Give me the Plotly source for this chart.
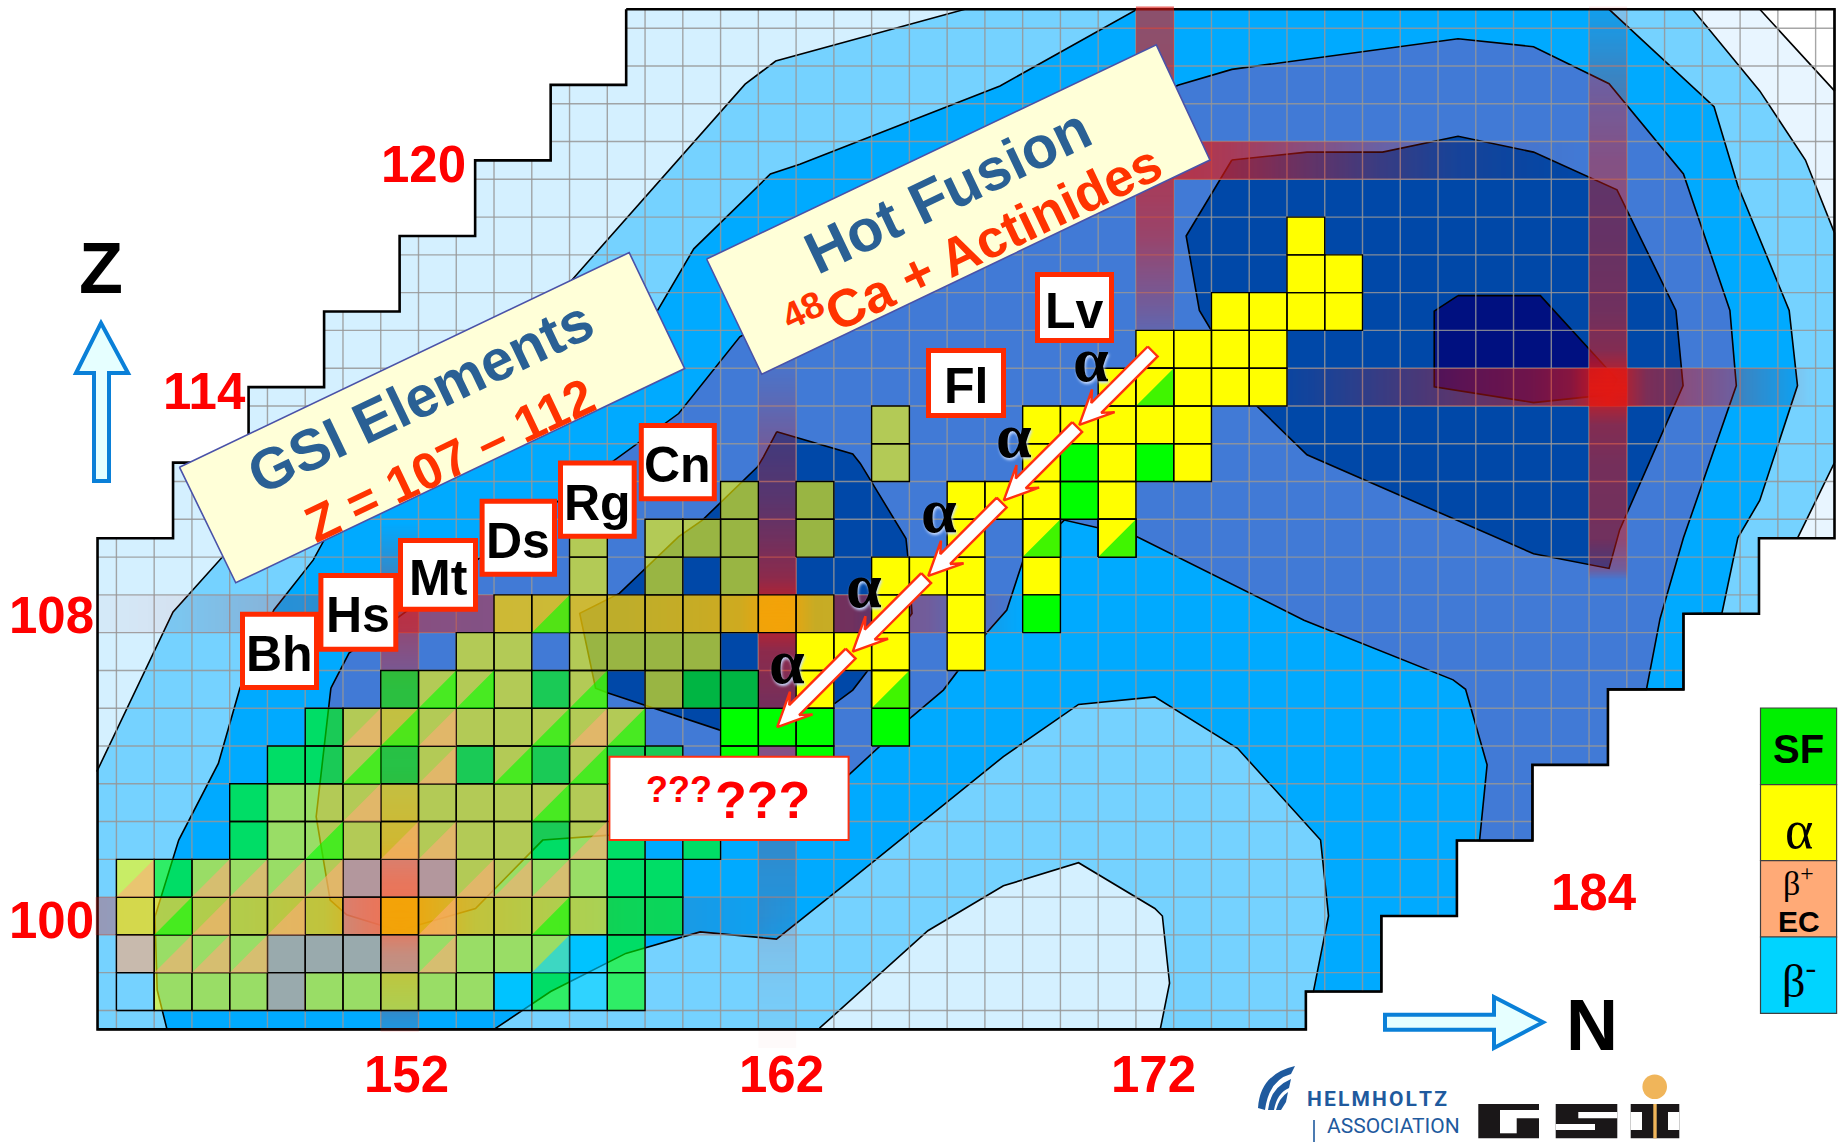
import plotly.graph_objects as go

W, H = 1845, 1142
N_RANGE = [141.417, 190.278]
Z_RANGE = [94.018, 124.246]

# ---------- chart region and contour levels (N, Z) ----------
STAIR_N = [158,158,156,156,154,154,152,152,150,150,148,148,146,146,144,144,176,176,178,178,180,180,182,182,184,184,186,186,188,188,190,190,158]
STAIR_Z = [124,122,122,120,120,118,118,116,116,114,114,112,112,110,110,97,97,98,98,100,100,102,102,104,104,106,106,108,108,110,110,124,124]

EDGE_N = [186.24,190,190,189.02,190,190,189.23,188.02]
EDGE_Z = [124,124,110,110,112,118.08,120.01,121.84]
CORNER_N = [188.02,190,190]
CORNER_Z = [124,121.84,124]

L1_N = [143.98,146,147.36,156.54,161.15,161.96,166.97,186.24,188.02,189.23,190,190,189.02,188,188,186,186,184,184,182,182,180,180,178,178,176,176,144]
L1_Z = [103.82,108.05,109.56,116.81,122.02,122.63,124,124,121.84,120.01,118.08,112,110,110,108,108,106,106,104,104,102,102,100,100,98,98,97,97]

M_N = [145.84,145.58,145.52,146.15,147.2,147.77,148.67,149.71,150.06,158.84,159.79,161.82,162.6,167.9,171.53,184.03,186.81,187.44,188.8,189.02,188.02,187.44,187.02,186,186,184,184,182,182,180,180,178,178,176,176]
M_Z = [97,98.04,99.98,102.01,104.04,106.03,108.1,109.42,110.06,116.04,117.66,119.64,119.9,121.97,124,124,121.42,119.33,116.03,114.04,111,110.01,108.02,108,106,106,104,104,102,102,100,100,98,98,97]

L2_N = [154.5,156,157.99,159.96,161.98,163.94,167.99,169.98,172,174.19,176.39,176.6,176.2,176,176]
L2_Z = [97,98,99.01,99.58,99.39,100.95,104.22,105.6,105.8,104.44,102.01,100,98,98,97]

L3_N = [163.12,165.99,167.99,169.98,172,172.2,172.39,172.15]
L3_Z = [97.03,99.61,100.8,101.41,100.2,100,98.22,97.03]

B_N = [150.18,150.66,159.39,161.01,172.61,174.04,180.03,182.03,184.03,186,187.23,187.4,186,185.38,185.02,184,184,182,182,180.6,180.8,180.23,179.9,175.95,171.53,169.6,168.5,168.08,167.56,166.4,165.57,163.89,162,157.57,155.79,154.01,151.97,150.6,150.16,149.79,150.18]
B_Z = [106.03,106.96,113.3,115.33,121.99,122.41,123.22,123.01,122.03,119.64,116.03,114.04,110.01,107.87,106,106,104,104,102,102,104,106,106.25,107.83,110.04,110.48,109.38,108.1,107.51,105.98,105.28,103.73,102.8,102.14,102.01,100.2,99.61,100.03,100.42,102.63,106.03]

D1_N = [174.04,176.03,178.03,180.03,182.03,184.24,185.8,185.99,184.31,184.03,182.03,176.03,174.68,173.18,172.83,174.04]
D1_Z = [120.01,120.22,120.22,120.64,120.22,119.22,116.03,114.04,110.22,109.2,109.59,112.21,113.52,116.03,118,120.01]

D2_N = [161.99,164,164.2,165.41,165.46,165.57,164.41,164,163.53,160.48,157.5,157.19,156.77,157.82,159.39,160.02,161.48,161.64,161.99]
D2_Z = [112.82,112.23,111.98,109.99,109.51,108.01,106.51,105.98,105.63,104.92,105.91,106.03,108.01,108.54,110.04,110.48,111.89,112.16,112.82]

D3_N = [180.03,182.21,184.24,184.02,182.03,179.4,179.4,180.03]
D3_Z = [116.42,116.42,114.2,113.8,113.59,114.01,116.01,116.42]

# ---------- shell-closure bands (position along band, strength) ----------
BAND_Z108_N = [144,144.1,146,148,150,151,152,154,156,158,160,161,161.6,162,162.4,163,164,165,166,167,168.5]
BAND_Z108_A = [.03,.03,.06,.14,.2,.3,.45,.42,.4,.42,.52,.6,.85,1,.85,.52,.5,.35,.3,.15,0]
BAND_Z100_N = [144,144.1,146,148,150,151,152,153,154,156,158,160,161.5,162.4]
BAND_Z100_A = [.3,.3,.25,.3,.45,.75,1,.7,.45,.28,.15,.1,.06,0]
BAND_Z114_N = [174.5,176,178,180,182,183,184,185,186,188,189.5]
BAND_Z114_A = [0,.08,.25,.4,.5,.6,.95,.55,.45,.2,0]
BAND_Z120_N = [171.5,173,174,176,178,180,181.5,183.5]
BAND_Z120_A = [.7,.7,.65,.45,.25,.1,.05,0]
BAND_N162_Z = [97,98,99,100,102,104,106,107,107.6,108,108.4,109,110,111,112.5,114,115.2]
BAND_N162_A = [.02,.04,.08,.14,.22,.38,.55,.62,.8,1,.8,.62,.5,.4,.3,.12,0]
BAND_N172_Z = [114.5,116,118,120,122,124,124.05]
BAND_N172_A = [0,.28,.55,.68,.65,.62,.62]
BAND_N184_Z = [108.9,109.2,110,112,113,114,115,116,118,120,122,124,124.05]
BAND_N184_A = [0,.3,.5,.52,.58,.95,.58,.5,.45,.42,.28,.08,.08]
BAND_N152_Z = [97,97.1,99,100,101,102,104,106,107,108,109,110.4]
BAND_N152_A = [.15,.15,.5,1,.8,.45,.2,.28,.42,.55,.25,0]

# ---------- nuclide cells: {Z: [N, ...]} ----------
FADED_YELLOW = {
    98:[146,147,148,150,151,152,153,154], 99:[146,147,148,153,154,155,156],
    100:[145,146,147,148,149,150,152,153,154,155,156,157], 101:[145,147,148,149,150,154,155,156,157],
    102:[149,150,151,152,153,154,155,157], 103:[149,150,151,152,153,154,155,156,157],
    104:[151,153,155,157], 105:[151,152,153,154,155,156,157,158], 106:[153,154,155,157,159],
    107:[154,155,157,158,159,160], 108:[155,156,157,158,159,160,161,162,163], 109:[157,159,161],
    110:[157,159,160,161,163], 111:[161,163], 112:[165], 113:[165]}
FADED_GREEN = {98:[156,158], 99:[158], 100:[158,159], 101:[146,158,159], 102:[148,156,158,160], 103:[148],
               104:[149,150,152,154,156,158,159], 105:[150], 106:[152,156,160,161]}
FADED_ORANGE = {98:[149], 99:[145,149,150,151,152], 100:[151], 101:[151,152,153]}
FADED_CYAN = {98:[155,157], 99:[157]}
EMPTY_CELLS = {98:[145]}
TRI_ORANGE = {99:[146,147,148,153], 100:[147,149,153], 101:[145,147,148,149,150,154,155,156], 102:[152,153,157],
              103:[151], 104:[153], 105:[151,153,157]}
TRI_GREEN = {100:[146,156], 102:[150], 103:[156], 104:[151,155,157], 105:[152,156,158], 106:[153,154,157], 108:[156]}
TRI_CYAN = {99:[156]}
SOLID_YELLOW = {106:[163,165], 107:[163,164,165,167], 108:[165,167], 109:[165,166,167,169], 110:[167,169,171],
                111:[167,168,169,171], 112:[169,171,173], 113:[169,170,171,172,173], 114:[171,172,173,174,175],
                115:[172,173,174,175], 116:[174,175,176,177], 117:[176,177], 118:[176]}
SOLID_GREEN = {104:[161,163], 105:[161,162,163,165], 108:[169], 111:[170], 112:[170,172]}
SOLID_TRI_GREEN = {106:[165], 110:[169,171], 114:[172]}

# ---------- decay chain ----------
CHAIN_N = [172,170,168,166,164,162]
CHAIN_Z = [115,113,111,109,107,105]

# ---------- tilted panels ----------
GSI_BOX_N = [146.17,158.08,159.55,147.66,146.17]
GSI_BOX_Z = [111.88,117.56,114.49,108.82,111.88]
HOT_BOX_N = [160.13,172.04,173.46,161.59,160.13]
HOT_BOX_Z = [117.39,123.06,120.01,114.34,117.39]

# ---------- texts ----------
ELEMENTS = ["Bh","Hs","Mt","Ds","Rg","Cn","Fl","Lv"]
ELEMENT_X0 = [240,318.4,398,479.6,558,638.8,926,1035]
ELEMENT_X1 = [319,398.3,478,557,636.7,716.8,1006,1114]
ELEMENT_Y0 = [611.7,573,538,498.7,460.4,422.9,348,272]
ELEMENT_Y1 = [690,651.7,611.7,576.7,538.8,501.3,418,343]
MAGIC = ["120","114","108","100","152","162","172","184"]
MAGIC_X = [423.6,204.7,51.8,51.8,406,781.3,1153,1594.4]
MAGIC_Y = [164.7,391.8,615.4,920,1074,1074,1074,892]
ALPHA_X = [1091,1014,939,864,787]
ALPHA_Y = [359,435,510,585,661]
LEGEND_COLORS = ["#00f000","#ffff00","#ffaa77","#00d4ff"]
LEGEND_Y = [708,784.7,860.7,937,1013.3]

SANS = "Liberation Sans"
SERIF = "Liberation Serif"
LINE = "#000000"

fx = lambda x: x / W
fy = lambda y: 1 - y / H

fig = go.Figure()

def poly(ns, zs, fill, line=LINE, lw=1.6, axes=1):
    fig.add_trace(go.Scatter(
        x=ns, y=zs, mode="lines", fill="toself", fillcolor=fill,
        line=dict(color=line if line else "rgba(0,0,0,0)", width=lw if line else 0),
        hoverinfo="skip", showlegend=False,
        xaxis="x" if axes == 1 else "x2", yaxis="y" if axes == 1 else "y2"))

poly(STAIR_N, STAIR_Z, "#d4f0ff", None)
poly(EDGE_N, EDGE_Z, "#e8f5ff", None)
poly(CORNER_N, CORNER_Z, "#ffffff")
poly(L1_N, L1_Z, "#75d2ff")
poly(M_N, M_Z, "#00aaff")
poly(L2_N, L2_Z, "#75d2ff")
poly(L3_N, L3_Z, "#d4f0ff")
poly(B_N, B_Z, "#417ad6")
poly(D1_N, D1_Z, "#0048a8")
poly(D2_N, D2_Z, "#0048a8")
poly(D3_N, D3_Z, "#001080")

# grid inside the staircase
def top_at(n):
    return (110 if n < 146 else 112 if n < 148 else 114 if n < 150 else 116 if n < 152 else
            118 if n < 154 else 120 if n < 156 else 122 if n < 158 else 124)
def bottom_at(n):
    return 97 if n < 176 else 98 if n < 178 else 100 if n < 180 else 102 if n < 182 else \
        104 if n < 184 else 106 if n < 186 else 108 if n < 188 else 110
gx, gy = [], []
for i in range(144, 190):
    n = i + .5
    gx += [n, n, None]; gy += [bottom_at(n), top_at(n), None]
for i in range(97, 124):
    z = i + .5
    left = next(k + .0 for k in range(144, 190) if bottom_at(k + .5) < z < top_at(k + .5))
    right = next(k + 1.0 for k in range(189, 143, -1) if bottom_at(k + .5) < z < top_at(k + .5))
    gx += [left, right, None]; gy += [z, z, None]
fig.add_trace(go.Scatter(x=gx, y=gy, mode="lines", line=dict(color="rgba(150,150,150,.85)", width=1.4),
                         hoverinfo="skip", showlegend=False))
fig.add_trace(go.Scatter(x=STAIR_N, y=STAIR_Z, mode="lines", line=dict(color=LINE, width=2.6),
                         hoverinfo="skip", showlegend=False))

# bands
RED = [[0, "rgba(225,25,20,0)"], [1, "rgba(225,25,20,1)"]]
def hband(z, ns, a):
    fig.add_trace(go.Heatmap(x=ns, y=[z - .5, z, z + .5], z=[a, a], zmin=0, zmax=1, colorscale=RED,
                             zsmooth="best", showscale=False, hoverinfo="skip", xaxis="x2", yaxis="y2"))
def vband(n, zs, a):
    fig.add_trace(go.Heatmap(x=[n - .5, n, n + .5], y=zs, z=[[v, v] for v in a], zmin=0, zmax=1, colorscale=RED,
                             zsmooth="best", showscale=False, hoverinfo="skip", xaxis="x2", yaxis="y2"))
hband(108, BAND_Z108_N, BAND_Z108_A)
hband(100, BAND_Z100_N, BAND_Z100_A)
hband(114, BAND_Z114_N, BAND_Z114_A)
hband(120, BAND_Z120_N, BAND_Z120_A)
vband(162, BAND_N162_Z, BAND_N162_A)
vband(172, BAND_N172_Z, BAND_N172_A)
vband(184, BAND_N184_Z, BAND_N184_A)
vband(152, BAND_N152_Z, BAND_N152_A)

# cells
def squares(rows):
    xs, ys = [], []
    for z, ns in rows.items():
        for n in ns:
            xs += [n-.5, n+.5, n+.5, n-.5, n-.5, None]
            ys += [z-.5, z-.5, z+.5, z+.5, z-.5, None]
    return xs, ys
def triangles(rows):
    xs, ys = [], []
    for z, ns in rows.items():
        for n in ns:
            xs += [n-.5, n+.5, n+.5, n-.5, None]
            ys += [z-.5, z-.5, z+.5, z-.5, None]
    return xs, ys
def cells(rows, fill):
    xs, ys = squares(rows)
    poly(xs, ys, fill, LINE, 1.4, 2)
def tris(rows, fill):
    xs, ys = triangles(rows)
    poly(xs, ys, fill, None, 0, 2)

cells(EMPTY_CELLS, "rgba(0,0,0,0)")
cells(FADED_YELLOW, "rgba(255,255,0,.6)")
cells(FADED_GREEN, "rgba(0,255,0,.6)")
cells(FADED_ORANGE, "rgba(255,170,119,.6)")
cells(FADED_CYAN, "rgba(0,212,255,.6)")
tris(TRI_ORANGE, "rgba(255,170,119,.6)")
tris(TRI_GREEN, "rgba(0,255,0,.6)")
tris(TRI_CYAN, "rgba(0,212,255,.6)")
cells(SOLID_YELLOW, "#ffff00")
cells(SOLID_GREEN, "#00ff00")
cells(SOLID_TRI_GREEN, "#ffff00")
tris(SOLID_TRI_GREEN, "#40f500")
cells(SOLID_TRI_GREEN, "rgba(0,0,0,0)")

# decay arrows
U = 37.77
for i in range(len(CHAIN_N) - 1):
    ax, ay, bx, by = CHAIN_N[i], CHAIN_Z[i], CHAIN_N[i+1], CHAIN_Z[i+1]
    dx, dy = bx - ax, by - ay
    L = (dx*dx + dy*dy) ** .5
    ux, uy = dx / L, dy / L
    px_, py_ = -uy, ux
    def P(along, lat):
        return ax + ux*along/U + px_*lat/U, ay + uy*along/U + py_*lat/U
    tot = L * U
    pts = [P(3, -7), P(tot-24, -7), P(tot-34, -16), P(tot, 0), P(tot-34, 16), P(tot-24, 7), P(3, 7), P(3, -7)]
    poly([p[0] for p in pts], [p[1] for p in pts], "#ffffff", "#ff3010", 2.4, 2)

poly(GSI_BOX_N, GSI_BOX_Z, "#ffffd8", "#4a52a8", 1.6, 2)
poly(HOT_BOX_N, HOT_BOX_Z, "#ffffd8", "#4a52a8", 1.6, 2)

# ---------- page furniture ----------
shapes = []
def rect(x0, y0, x1, y1, fill, line=None, lw=0):
    shapes.append(dict(type="rect", xref="paper", yref="paper", x0=fx(x0), x1=fx(x1), y0=fy(y0), y1=fy(y1),
                       fillcolor=fill, line=dict(color=line or "rgba(0,0,0,0)", width=lw), layer="above"))
def path(points, fill, line=None, lw=0):
    d = ""
    for p in points:
        coords = " ".join(f"{fx(p[j])},{fy(p[j+1])}" for j in range(1, len(p), 2))
        d += f"{p[0]} {coords} "
    shapes.append(dict(type="path", xref="paper", yref="paper", path=d + "Z", fillcolor=fill,
                       line=dict(color=line or "rgba(0,0,0,0)", width=lw), layer="above"))

# axis arrows
path([("M",101,323),("L",128,373),("L",109,373),("L",109,481),("L",94,481),("L",94,373),("L",76,373)], "#e6ffff", "#0a80d8", 4)
path([("M",1385,1014.7),("L",1494,1014.7),("L",1494,997),("L",1543,1022.3),("L",1494,1048),("L",1494,1029.7),("L",1385,1029.7)], "#e6ffff", "#0a80d8", 4)

# decay legend
for i, c in enumerate(LEGEND_COLORS):
    rect(1760.5, LEGEND_Y[i], 1836.6, LEGEND_Y[i+1], c, "#404040", 1.2)

# element tags and unknown-element panel
for x0, x1, y0, y1 in zip(ELEMENT_X0, ELEMENT_X1, ELEMENT_Y0, ELEMENT_Y1):
    rect(x0 + 2.5, y0 + 2.5, x1 - 2.5, y1 - 2.5, "#ffffff", "#ff2a00", 5)
rect(609.4, 756.7, 848.6, 840, "#ffffff", "#ff3010", 2)

# logos
B = "#1f5a9e"
path([("M",1258,1108),("Q",1260,1074,1295,1066),("L",1291,1074),("Q",1269,1080,1265,1110)], B)
path([("M",1268,1110),("Q",1270,1088,1291,1079),("L",1289,1088),("Q",1277,1093,1274,1110)], B)
path([("M",1276,1110),("Q",1279,1098,1288,1092),("L",1286,1102),("L",1281,1110)], B)
K = "#1a1718"
rect(1478.3,1104,1539,1138.3,K); rect(1500,1110,1539,1118.3,"#fff"); rect(1500,1118,1516.7,1133.3,"#fff")
rect(1555.7,1104,1617.3,1138.3,K); rect(1578.3,1112,1617.3,1118.3,"#fff"); rect(1555.7,1124,1595,1130,"#fff")
rect(1630.7,1104,1679.3,1138.3,K); rect(1630.7,1112,1642,1130,"#fff"); rect(1668,1112,1679.3,1130,"#fff")
rect(1653.3,1104,1656.7,1138.3,"#f0b55a")
shapes.append(dict(type="circle", xref="paper", yref="paper", x0=fx(1642.4), x1=fx(1667), y0=fy(1099), y1=fy(1074.4),
                   fillcolor="#f0b55a", line=dict(width=0), layer="above"))
rect(1313.2,1120,1314.8,1142,B)

anns = []
def txt(t, x, y, size, color="#000000", family=SANS, angle=0, **kw):
    anns.append(dict(text=t, x=fx(x), y=fy(y), xref="paper", yref="paper", showarrow=False, xanchor="center",
                     yanchor="middle", textangle=angle, font=dict(family=family, size=size, color=color, **kw)))

for t, x, y in zip(MAGIC, MAGIC_X, MAGIC_Y):
    txt(f"<b>{t}</b>", x, y, 51, "#ff0000")
txt("<b>Z</b>", 101, 268, 72)
txt("<b>N</b>", 1591.8, 1024.5, 72)
for t, x0, x1, y0, y1 in zip(ELEMENTS, ELEMENT_X0, ELEMENT_X1, ELEMENT_Y0, ELEMENT_Y1):
    txt(f"<b>{t}</b>", (x0 + x1) / 2, (y0 + y1) / 2 + 3, 50)
for x, y in zip(ALPHA_X, ALPHA_Y):
    txt("<b>α</b>", x, y, 64, family=SERIF, shadow="1px 2px 3px #c8dcff")
txt("<b>GSI Elements</b>", 420, 396, 58, "#2a6094", angle=-25.5)
txt("<b>Z = 107 – 112</b>", 449, 460, 51, "#ff3300", angle=-25.5)
txt("<b>Hot Fusion</b>", 948, 191, 59, "#2a6094", angle=-25.5)
txt("<b><sup>48</sup>Ca + Actinides</b>", 973, 243, 53, "#ff3300", angle=-25.5)
txt("<b>???</b>", 679, 789, 36, "#ff0000")
txt("<b>???</b>", 762.5, 800, 52, "#ff0000")
txt("<b>SF</b>", 1798.5, 749, 40)
txt("α", 1798.5, 830, 54, family=SERIF)
txt("β<sup>+</sup>", 1798.5, 881, 34, family=SERIF)
txt("<b>EC</b>", 1798.5, 921, 30)
txt("β<sup>-</sup>", 1798.5, 978, 46, family=SERIF)
txt("<b>H\u200aE\u200aL\u200aM\u200aH\u200aO\u200aL\u200aT\u200aZ</b>", 1377, 1099, 21, B, family="Roboto")
txt("ASSOCIATION", 1393, 1126, 21, B, family="Roboto")

hidden = dict(visible=False, fixedrange=True)
fig.update_layout(
    width=W, height=H, margin=dict(l=0, r=0, t=0, b=0, pad=0),
    paper_bgcolor="#ffffff", plot_bgcolor="#ffffff", showlegend=False,
    xaxis=dict(range=N_RANGE, **hidden), yaxis=dict(range=Z_RANGE, **hidden),
    xaxis2=dict(range=N_RANGE, overlaying="x", **hidden), yaxis2=dict(range=Z_RANGE, overlaying="y", **hidden),
    shapes=shapes, annotations=anns)

fig.write_html("out.html", config=dict(displayModeBar=False),
               post_script="document.body.style.margin='0';document.documentElement.style.overflow='hidden';")
